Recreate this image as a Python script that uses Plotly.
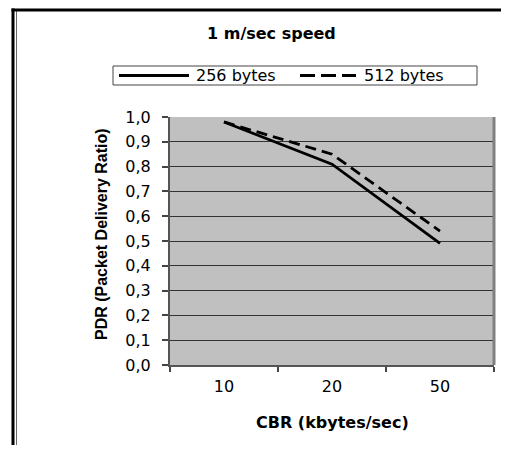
import plotly.graph_objects as go

categories = ["10", "20", "50"]
pdr_256 = [0.98, 0.81, 0.49]
pdr_512 = [0.98, 0.85, 0.54]
y_ticks = [0.0, 0.1, 0.2, 0.3, 0.4, 0.5, 0.6, 0.7, 0.8, 0.9, 1.0]

OFF = 8  # default page body margin
W, H = 509 - 2 * OFF, 453 - 2 * OFF  # keep the page free of scrollbars
# plot area in page coordinates: x 170..494, y 117..365
PX0, PX1, PY0, PY1 = 170, 494, 117, 365
L, R, T, B = PX0 - OFF, W - (PX1 - OFF), PY0 - OFF, H - (PY1 - OFF)
pw, ph = PX1 - PX0, PY1 - PY0


def px(x):
    return (x - PX0) / pw


def py(y):
    return (PY1 - y) / ph


sans = "DejaVu Sans, Verdana, sans-serif"
arial = "Liberation Sans, Arial, sans-serif"

fig = go.Figure()
fig.add_trace(go.Scatter(x=categories, y=pdr_256, mode="lines", name="256 bytes",
                         line=dict(color="black", width=2.8), showlegend=False))
fig.add_trace(go.Scatter(x=categories, y=pdr_512, mode="lines", name="512 bytes",
                         line=dict(color="black", width=2.8, dash="11px,6px"), showlegend=False))

shapes = []
# outer frame (double line on the left, thick line on top)
shapes.append(dict(type="line", xref="paper", yref="paper", x0=px(13), x1=px(13), y0=py(8.5), y1=py(445),
                   line=dict(color="black", width=3)))
shapes.append(dict(type="line", xref="paper", yref="paper", x0=px(16.5), x1=px(16.5), y0=py(11), y1=py(445),
                   line=dict(color="#666", width=1)))
shapes.append(dict(type="line", xref="paper", yref="paper", x0=px(11.5), x1=px(501), y0=py(10), y1=py(10),
                   line=dict(color="black", width=3)))
# plot area border on the right
shapes.append(dict(type="line", xref="paper", yref="paper", x0=1, x1=1, y0=0, y1=1,
                   line=dict(color="#808080", width=3)))
# legend box and samples
shapes.append(dict(type="rect", xref="paper", yref="paper", x0=px(113), x1=px(477), y0=py(66), y1=py(85),
                   line=dict(color="#444", width=1), fillcolor="white", layer="below"))
shapes.append(dict(type="line", xref="paper", yref="paper", x0=px(119), x1=px(189), y0=py(75.5), y1=py(75.5),
                   line=dict(color="black", width=2.8)))
shapes.append(dict(type="line", xref="paper", yref="paper", x0=px(300), x1=px(356), y0=py(75.5), y1=py(75.5),
                   line=dict(color="black", width=2.8, dash="15px,6px")))

annotations = [
    dict(text="<b>1 m/sec speed</b>", xref="paper", yref="paper", x=px(271), y=py(33),
         showarrow=False, font=dict(size=16, color="black", family=sans), xanchor="center", yanchor="middle"),
    dict(text="256 bytes", xref="paper", yref="paper", x=px(194), y=py(75.5),
         showarrow=False, font=dict(size=16, color="black", family=sans), xanchor="left", yanchor="middle"),
    dict(text="512 bytes", xref="paper", yref="paper", x=px(362), y=py(75.5),
         showarrow=False, font=dict(size=16, color="black", family=sans), xanchor="left", yanchor="middle"),
    dict(text="<b>PDR (Packet Delivery Ratio)</b>", xref="paper", yref="paper", x=px(101), y=py(234),
         textangle=-90, showarrow=False, font=dict(size=16, color="black", family=arial),
         xanchor="center", yanchor="middle"),
    dict(text="<b>CBR (kbytes/sec)</b>", xref="paper", yref="paper", x=px(332), y=py(422),
         showarrow=False, font=dict(size=16, color="black", family=sans), xanchor="center", yanchor="middle"),
]

fig.update_layout(
    width=W, height=H,
    margin=dict(l=L, r=R, t=T, b=B),
    paper_bgcolor="white", plot_bgcolor="#c0c0c0",
    separators=",.",
    shapes=shapes, annotations=annotations,
    font=dict(family=sans, color="black", size=16),
)
fig.update_xaxes(
    type="category", tickson="boundaries", range=[-0.5, 2.5],
    ticks="outside", ticklen=5, tickcolor="#444", tickwidth=1.5,
    showline=True, linecolor="#555", linewidth=2, showgrid=False, zeroline=False,
    tickfont=dict(size=16, family=sans), ticklabelstandoff=6,
)
fig.update_yaxes(
    range=[0, 1], tickvals=y_ticks, tickformat=".1f",
    ticks="outside", ticklen=6, tickcolor="#444", tickwidth=1.5,
    showline=True, linecolor="#555", linewidth=2,
    showgrid=True, gridcolor="#333", gridwidth=1, zeroline=False,
    tickfont=dict(size=16, family=sans), ticklabelstandoff=8,
)

fig.write_html("out.html", config={"displayModeBar": False})
